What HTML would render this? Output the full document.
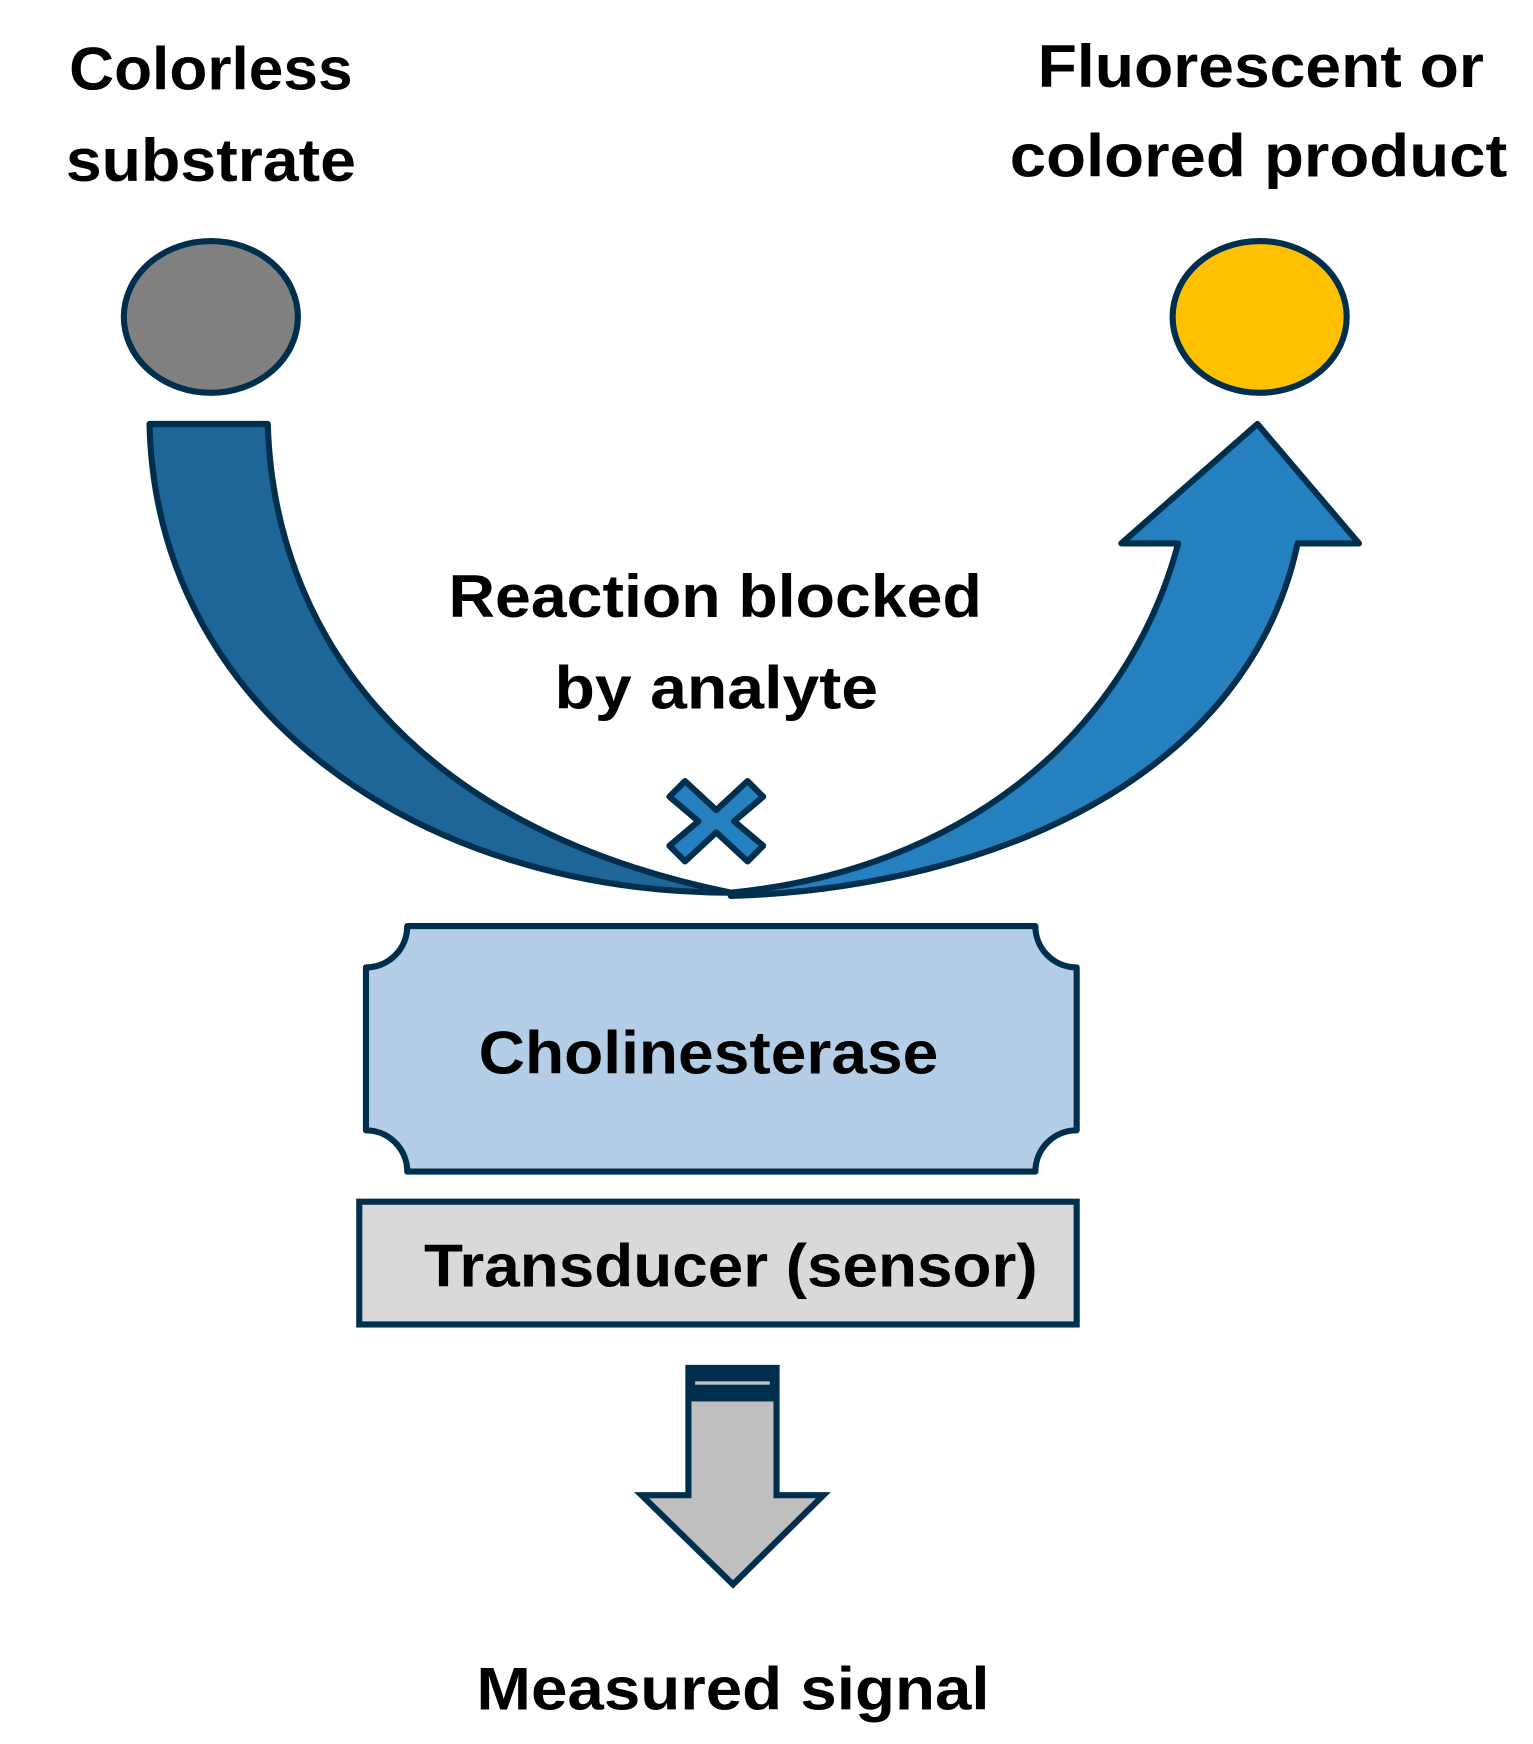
<!DOCTYPE html>
<html><head><meta charset="utf-8"><style>
html,body{margin:0;padding:0;background:#fff;}
svg{display:block;}
text{font-family:"Liberation Sans",sans-serif;font-weight:bold;fill:#000;}
</style></head><body>
<svg width="1533" height="1744" viewBox="0 0 1374 1563" preserveAspectRatio="none" xmlns="http://www.w3.org/2000/svg">
<g stroke="#002F4E" stroke-width="5.5" stroke-linejoin="round">
<ellipse cx="189" cy="284" rx="78" ry="68" fill="#808080"/>
<ellipse cx="1129" cy="284" rx="78" ry="68" fill="#FFC000"/>
<path d="M134,380 L240,380 C245,560 360,740 655,800 C380,800 140,640 134,380 Z" fill="#1F6698"/>
<path d="M655,803 C900,795 1120,690 1163,487 L1218,487 L1127,380 L1005,487 L1056,487 C1010,660 860,780 655,800 Z" fill="#2580BF"/>
<path d="M642,736 m-28,-36 l28,26 l28,-26 l14,14 l-26,22 l26,22 l-14,14 l-28,-26 l-28,26 l-14,-14 l26,-22 l-26,-22 Z" fill="#2580BF"/>
<path d="M365,830 L928,830 A37,37 0 0 0 965,867 L965,1013 A37,37 0 0 0 928,1050 L365,1050 A37,37 0 0 0 328,1013 L328,867 A37,37 0 0 0 365,830 Z" fill="#B4CEE7"/>
<rect x="322" y="1077" width="643" height="110" fill="#D9D9D9" stroke-linejoin="miter"/>
<path d="M617,1226 L696,1226 L696,1340 L738,1340 L657,1420 L575,1340 L617,1340 Z" fill="#BFBFBF" stroke-linejoin="miter"/>
</g>
<rect x="615" y="1224" width="83" height="32" fill="#002F4E"/>
<rect x="623" y="1238" width="67" height="3" fill="#BFBFBF"/>
<g font-size="54" text-anchor="middle">
<text x="189" y="80" textLength="254" lengthAdjust="spacingAndGlyphs">Colorless</text>
<text x="189" y="162" textLength="260" lengthAdjust="spacingAndGlyphs">substrate</text>
<text x="1130" y="78" textLength="400" lengthAdjust="spacingAndGlyphs">Fluorescent or</text>
<text x="1128" y="158" textLength="446" lengthAdjust="spacingAndGlyphs">colored product</text>
<text x="641" y="553" textLength="478" lengthAdjust="spacingAndGlyphs">Reaction blocked</text>
<text x="642" y="635" textLength="290" lengthAdjust="spacingAndGlyphs">by analyte</text>
<text x="635" y="962" textLength="412" lengthAdjust="spacingAndGlyphs">Cholinesterase</text>
<text x="655" y="1153" textLength="550" lengthAdjust="spacingAndGlyphs">Transducer (sensor)</text>
<text x="657" y="1532" textLength="460" lengthAdjust="spacingAndGlyphs">Measured signal</text>
</g>
</svg>
</body></html>
